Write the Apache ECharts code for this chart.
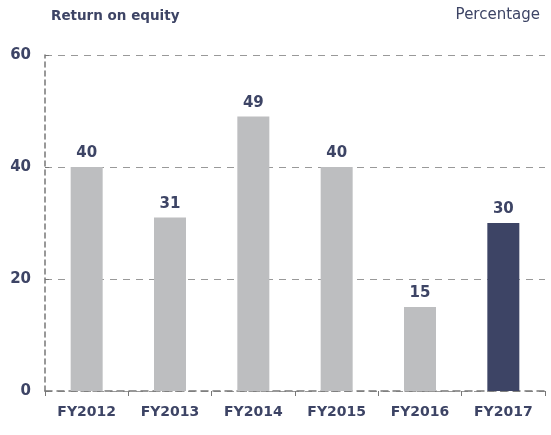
<!DOCTYPE html>
<html>
<head>
<meta charset="utf-8">
<script src="https://cdn.jsdelivr.net/npm/echarts@6/dist/echarts.min.js"></script>
<style>
  html, body { margin: 0; padding: 0; background: #fff; }
  #chart { width: 551px; height: 435px; }
</style>
</head>
<body>
<div id="chart"></div>
<script>
const years = ['FY2012', 'FY2013', 'FY2014', 'FY2015', 'FY2016', 'FY2017']
const roe = [40, 31, 49, 40, 15, 30]
const yTicks = [0, 20, 40, 60]

const textColor = '#3d4465'
const grey = '#bdbec0'
const highlight = '#3d4465'
const font = '"DejaVu Sans", sans-serif'

const chart = echarts.init(document.getElementById('chart'))

const option = {
  textStyle: { fontFamily: font },
  title: [
    {
      text: 'Return on equity',
      left: 46,
      top: 4,
      textStyle: { color: textColor, fontSize: 13.5, fontWeight: 'bold', fontFamily: font }
    },
    {
      text: 'Percentage',
      right: 6,
      top: 3,
      textStyle: { color: textColor, fontSize: 15, fontWeight: 'normal', fontFamily: font }
    }
  ],
  grid: { left: 45, right: 6, top: 55, bottom: 44 },
  xAxis: {
    type: 'category',
    data: years,
    axisLine: { lineStyle: { color: '#777', type: [7, 5], width: 1.5 } },
    axisTick: { show: true, length: 5, lineStyle: { color: '#777' } },
    axisLabel: { color: textColor, fontSize: 14, fontWeight: 'bold', margin: 14 }
  },
  yAxis: {
    type: 'value',
    min: 0,
    max: 60,
    interval: 20,
    axisLine: { show: true, lineStyle: { color: '#777', type: [5, 4], width: 1.5 } },
    axisTick: { show: true, inside: true, length: 4, lineStyle: { color: '#777' } },
    axisLabel: {
      color: textColor, fontSize: 15, fontWeight: 'bold', margin: 14,
      formatter: v => (yTicks.includes(v) ? String(v) : '')
    },
    splitLine: { lineStyle: { color: '#999', type: [7, 6], width: 1 } }
  },
  series: [
    {
      type: 'bar',
      barWidth: 32,
      data: roe.map((v, i) => ({
        value: v,
        itemStyle: { color: i === roe.length - 1 ? highlight : grey }
      })),
      label: {
        show: true,
        position: 'top',
        distance: 6,
        color: textColor,
        fontSize: 15,
        fontWeight: 'bold'
      }
    }
  ]
}

chart.setOption(option)
</script>
</body>
</html>
